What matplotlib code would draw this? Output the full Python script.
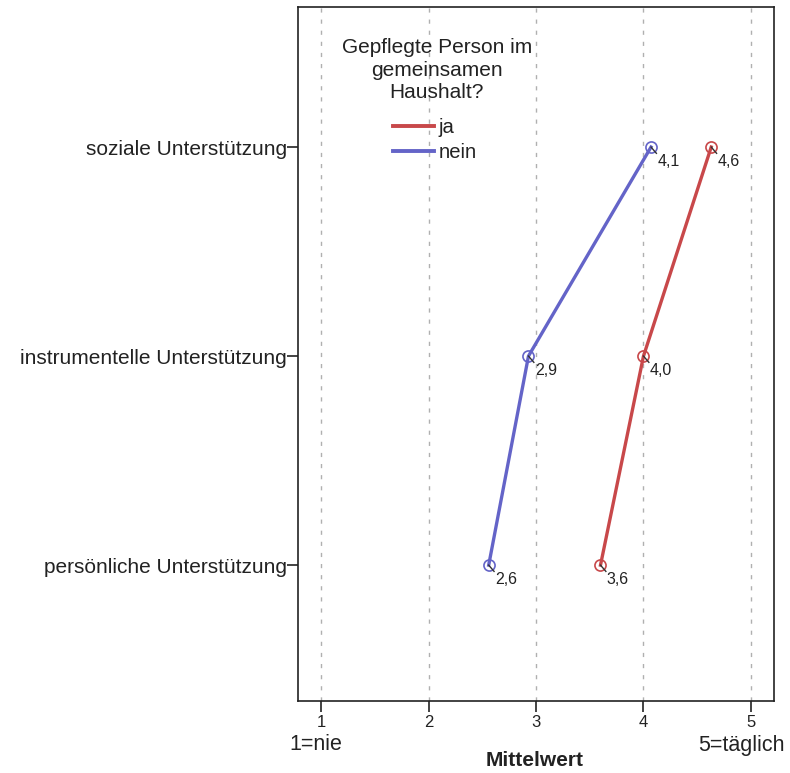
import matplotlib
matplotlib.use("Agg")
import matplotlib.pyplot as plt
from matplotlib.lines import Line2D

plt.rcParams["font.family"] = ["Liberation Sans", "DejaVu Sans"]

categories = ["soziale Unterstützung", "instrumentelle Unterstützung", "persönliche Unterstützung"]
ja_values = [4.63, 4.00, 3.60]
nein_values = [4.07, 2.93, 2.56]
series_names = ["ja", "nein"]
xticks = [1, 2, 3, 4, 5]

red = "#c8484a"
blue = "#6464c8"

fig = plt.figure(figsize=(7.9, 7.73), dpi=100)
ax = fig.add_axes([298/790, 1-701/773, (774-298)/790, (701-7)/773])
ypos = list(range(len(categories)))

for vals, col in [(ja_values, red), (nein_values, blue)]:
    ax.plot(vals, ypos, color=col, lw=2.4, zorder=3)
    ax.plot(vals, ypos, linestyle="none", marker="o", ms=8, mfc="none", mec=col, mew=1.2, zorder=4)
    for v, y in zip(vals, ypos):
        ax.plot([v, v + 0.05], [y, y + 0.03], color="#333333", lw=1, zorder=5)
        ax.text(v + 0.06, y + 0.035, f"{v:.1f}".replace(".", ","), fontsize=11.5,
                ha="left", va="top", color="#222222", zorder=6)

ax.set_xlim(0.786, 5.214)
ax.set_ylim(2.65, -0.67)
ax.set_yticks(ypos)
ax.set_yticklabels(categories, fontsize=15, color="#222222")
ax.set_xticks(xticks)
ax.set_xticklabels([str(t) for t in xticks], fontsize=12, color="#222222")
ax.tick_params(axis="both", direction="out", length=8, width=1.2, color="#222222")
ax.tick_params(axis="y", pad=0)
ax.tick_params(axis="x", pad=2)
for x in xticks:
    ax.axvline(x, color="#b0b0b0", ls=(0, (3, 5)), lw=1, zorder=1)
for s in ax.spines.values():
    s.set_color("#222222")
    s.set_linewidth(1.2)

fig.text(316/790, 1-745/773, "1=nie", fontsize=15.5, ha="center", va="center", color="#222222")
fig.text(741/790, 1-745/773, "5=täglich", fontsize=15.5, ha="center", va="center", color="#222222")
fig.text(535/790, 1-760/773, "Mittelwert", fontsize=15, fontweight="bold", ha="center", va="center", color="#222222")

fig.text(437/790, 1-38/773, "Gepflegte Person im\ngemeinsamen\nHaushalt?", fontsize=15,
         ha="center", va="top", multialignment="center", linespacing=1.25, color="#222222")

handles = [Line2D([0], [0], color=red, lw=2.8), Line2D([0], [0], color=blue, lw=2.8)]
leg = ax.legend(handles, series_names, loc="upper left", bbox_to_anchor=(95/476, 1-(118-7)/694),
                borderaxespad=0, borderpad=0, frameon=False, fontsize=14.6, handlelength=2.0,
                handletextpad=0.25, labelspacing=0.3)
for t in leg.get_texts():
    t.set_color("#222222")

fig.savefig("out.png", dpi=100)
